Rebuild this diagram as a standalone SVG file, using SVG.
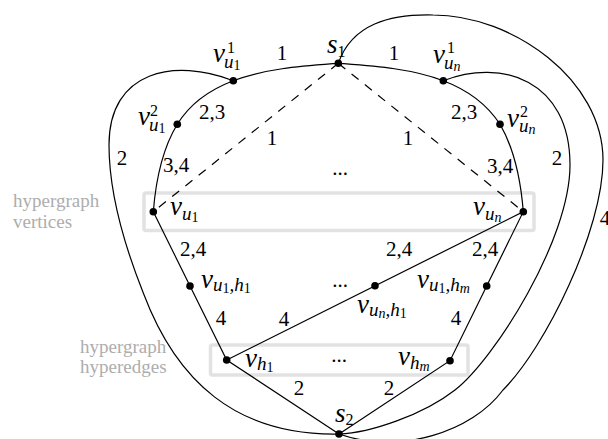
<svg xmlns="http://www.w3.org/2000/svg" width="608" height="439" viewBox="0 0 608 439" font-family="'Liberation Serif', 'DejaVu Serif', serif">
<style>
text{font-family:'Liberation Serif','DejaVu Serif',serif;fill:#000}
.m{font-size:27px;font-style:italic}
.s{font-size:19px;font-style:italic}
.ss{font-size:14px;font-style:normal}
.ssi{font-size:14px;font-style:italic}
.sp{font-size:16px;font-style:normal}
.e{font-size:21px;text-anchor:middle}
.g{font-size:19px;fill:#adadad}
.box{fill:none;stroke:#e2e2e2;stroke-width:3.5}
.c{fill:none;stroke:#000;stroke-width:1.2}
.d{fill:none;stroke:#000;stroke-width:1.2;stroke-dasharray:9 8}
.n{fill:#000}
</style>
<g id="groups">
<rect class="box" x="144" y="193" width="390" height="37.5" rx="2"/>
<rect class="box" x="210.5" y="345" width="257.5" height="30" rx="2"/>
<text class="g" x="13" y="207">hypergraph</text>
<text class="g" x="13" y="228">vertices</text>
<text class="g" x="80" y="353">hypergraph</text>
<text class="g" x="80" y="373">hyperedges</text>
</g>
<g id="connectors">
<path class="c" d="M338.3,63.3 C303.3,66 266,68.3 233.3,80.7 C210.9,89.2 189.8,103.8 177.3,124.3 C161.7,149.9 155.7,181.7 153.3,211.7"/>
<path class="c" d="M338.3,63.3 C373.3,66 410.6,68.3 443.3,80.7 C465.7,89.2 486.8,103.8 500,124.3 C514.9,149.9 520.9,181.7 523.3,211.7"/>
<path class="d" d="M338.3,63.3 L153.3,211.7"/>
<path class="d" d="M338.3,63.3 L523.3,211.7"/>
<path class="c" d="M153.3,211.7 L190,286 L226.7,360 L339,434 L450,360.7 L486.7,286 L523.3,211.7 L226.7,360"/>
<path class="c" d="M233.3,80.7 C175,58 109,70 109,145 C109,195 124.8,246.5 143.3,293 C176,380 235,436 339,434"/>
<path class="c" d="M443.3,80.7 C501.6,58 570,80 570,165 C570,240 494.5,359 455,390 C423.4,414.8 370,433 339,434"/>
<path class="c" d="M338.3,63.3 C352,24 390,14 433,15 C513,15 603,80 603,160 C603,230 545.4,347.6 503,390 C472,432 400,455 339,434"/>
<text class="e" x="282" y="60">1</text>
<text class="e" x="394" y="60">1</text>
<text class="e" x="212" y="119">2,3</text>
<text class="e" x="464" y="119">2,3</text>
<text class="e" x="272" y="145">1</text>
<text class="e" x="408" y="145">1</text>
<text class="e" x="122" y="165">2</text>
<text class="e" x="557" y="165">2</text>
<text class="e" x="176" y="172">3,4</text>
<text class="e" x="500" y="173">3,4</text>
<text class="e" x="193" y="256">2,4</text>
<text class="e" x="399" y="256">2,4</text>
<text class="e" x="485" y="256">2,4</text>
<text class="e" x="221" y="325">4</text>
<text class="e" x="284" y="326">4</text>
<text class="e" x="456" y="325">4</text>
<text class="e" x="299" y="395">2</text>
<text class="e" x="389" y="395">2</text>
<text class="e" x="605" y="225">4</text>
<text class="e" x="340" y="175">...</text>
<text class="e" x="340" y="287">...</text>
<text class="e" x="339" y="362">...</text>
</g>
<g id="s1"><circle class="n" cx="338.3" cy="63.3" r="3.8"/><text class="m" x="327" y="53">s<tspan class="sp" dy="4">1</tspan></text></g>
<g id="v_u1_1"><circle class="n" cx="233.3" cy="80.7" r="3.8"/><text class="m" x="213" y="62">v<tspan class="sp" dx="2" dy="-9">1</tspan><tspan class="s" dx="-11" dy="15">u</tspan><tspan class="ss" dy="2">1</tspan></text></g>
<g id="v_u1_2"><circle class="n" cx="177.3" cy="124.3" r="3.8"/><text class="m" x="138" y="125">v<tspan class="sp" dx="0" dy="-9">2</tspan><tspan class="s" dx="-9" dy="15">u</tspan><tspan class="ss" dy="2">1</tspan></text></g>
<g id="v_u1"><circle class="n" cx="153.3" cy="211.7" r="3.8"/><text class="m" x="170" y="215">v<tspan class="s" dy="5">u</tspan><tspan class="ss" dy="2">1</tspan></text></g>
<g id="v_u1_h1"><circle class="n" cx="190" cy="286" r="3.8"/><text class="m" x="201" y="288">v<tspan class="s" dy="3">u</tspan><tspan class="ss" dy="2">1</tspan><tspan class="s" dy="-2">,h</tspan><tspan class="ss" dy="2">1</tspan></text></g>
<g id="v_h1"><circle class="n" cx="226.7" cy="360" r="3.8"/><text class="m" x="245" y="367">v<tspan class="s" dy="3">h</tspan><tspan class="ss" dy="2">1</tspan></text></g>
<g id="s2"><circle class="n" cx="339" cy="434" r="3.8"/><text class="m" x="335" y="422">s<tspan class="sp" dy="3">2</tspan></text></g>
<g id="v_hm"><circle class="n" cx="450" cy="360.7" r="3.8"/><text class="m" x="398" y="365">v<tspan class="s" dy="4">h</tspan><tspan class="ssi" dy="2">m</tspan></text></g>
<g id="v_u1_hm"><circle class="n" cx="486.7" cy="286" r="3.8"/><text class="m" x="417" y="288">v<tspan class="s" dy="3">u</tspan><tspan class="ss" dy="2">1</tspan><tspan class="s" dy="-2">,h</tspan><tspan class="ssi" dy="2">m</tspan></text></g>
<g id="v_un_h1"><circle class="n" cx="375" cy="285.7" r="3.8"/><text class="m" x="357" y="313">v<tspan class="s" dy="3">u</tspan><tspan class="ssi" dy="2">n</tspan><tspan class="s" dy="-2">,h</tspan><tspan class="ss" dy="2">1</tspan></text></g>
<g id="v_un"><circle class="n" cx="523.3" cy="211.7" r="3.8"/><text class="m" x="473" y="215">v<tspan class="s" dy="5">u</tspan><tspan class="ssi" dy="2">n</tspan></text></g>
<g id="v_un_2"><circle class="n" cx="500" cy="124.3" r="3.8"/><text class="m" x="507" y="127">v<tspan class="sp" dx="1" dy="-10">2</tspan><tspan class="s" dx="-9" dy="15">u</tspan><tspan class="ssi" dy="2">n</tspan></text></g>
<g id="v_un_1"><circle class="n" cx="443.3" cy="80.7" r="3.8"/><text class="m" x="433" y="63">v<tspan class="sp" dx="2" dy="-10">1</tspan><tspan class="s" dx="-11" dy="16">u</tspan><tspan class="ssi" dy="2">n</tspan></text></g>
</svg>
